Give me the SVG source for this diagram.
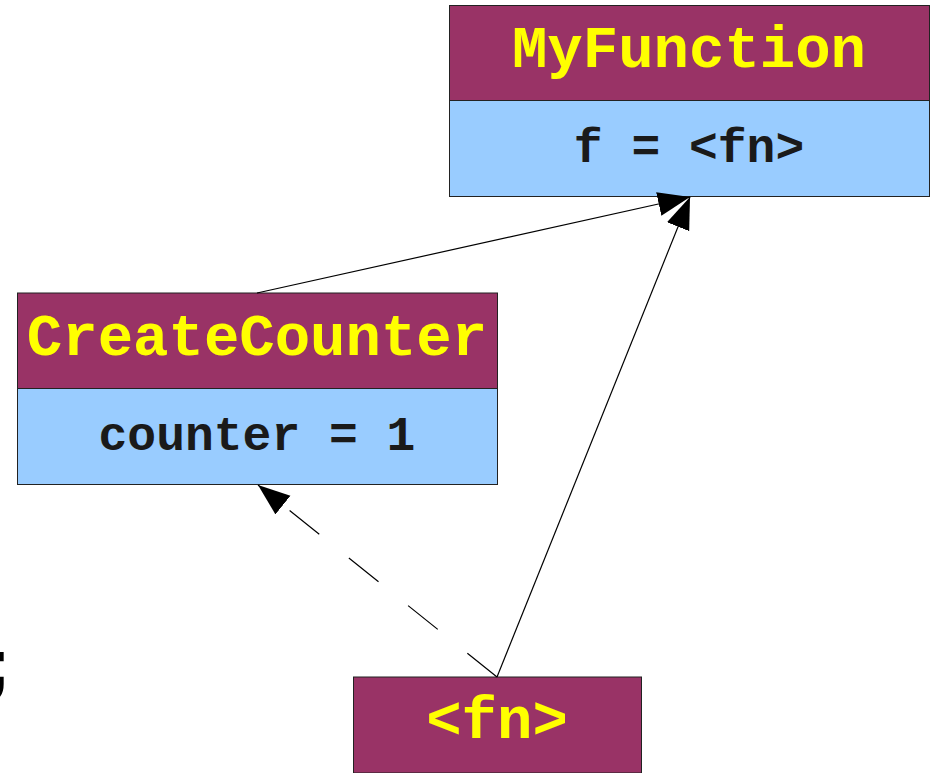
<svg xmlns="http://www.w3.org/2000/svg" width="935" height="773" viewBox="0 0 935 773">
<style>
.hdr{fill:#993366;stroke:#222;stroke-width:1}
.body{fill:#99ccff;stroke:#222;stroke-width:1}
.title{font-family:"Liberation Mono",monospace;font-weight:bold;font-size:59px;fill:#ffff00;text-anchor:middle}
.val{font-family:"Liberation Mono",monospace;font-weight:bold;font-size:48px;fill:#1a1a1a;text-anchor:middle}
.conn{stroke:#000;stroke-width:1.2;fill:none}
</style>
<defs>
<marker id="ah" markerUnits="userSpaceOnUse" markerWidth="34" markerHeight="26" refX="32" refY="12" orient="auto">
<path d="M0,0 L32,12 L0,24 Z" fill="#000"/>
</marker>
</defs>
<text x="-12" y="686" font-family="Liberation Sans, sans-serif" font-weight="bold" font-size="66">;</text>
<g id="MyFunction">
<rect class="hdr" x="449.5" y="5.5" width="480" height="95"/>
<rect class="body" x="449.5" y="100.5" width="480" height="96"/>
<text class="title" x="689" y="67">MyFunction</text>
<text class="val" x="689" y="162">f = &lt;fn&gt;</text>
</g>
<g id="CreateCounter">
<rect class="hdr" x="17.5" y="293" width="480" height="95.5"/>
<rect class="body" x="17.5" y="388.5" width="480" height="96"/>
<text class="title" x="257" y="355">CreateCounter</text>
<text class="val" x="257" y="450">counter = 1</text>
</g>
<g id="fn">
<rect class="hdr" x="353.5" y="677" width="288" height="96"/>
<text class="title" x="497" y="738">&lt;fn&gt;</text>
</g>
<g id="connectors">
<line class="conn" x1="257" y1="293" x2="690" y2="197" marker-end="url(#ah)"/>
<line class="conn" x1="497" y1="677" x2="690" y2="197" marker-end="url(#ah)"/>
<line class="conn" x1="497" y1="677" x2="258" y2="485" stroke-dasharray="38,38" marker-end="url(#ah)"/>
</g>
</svg>
